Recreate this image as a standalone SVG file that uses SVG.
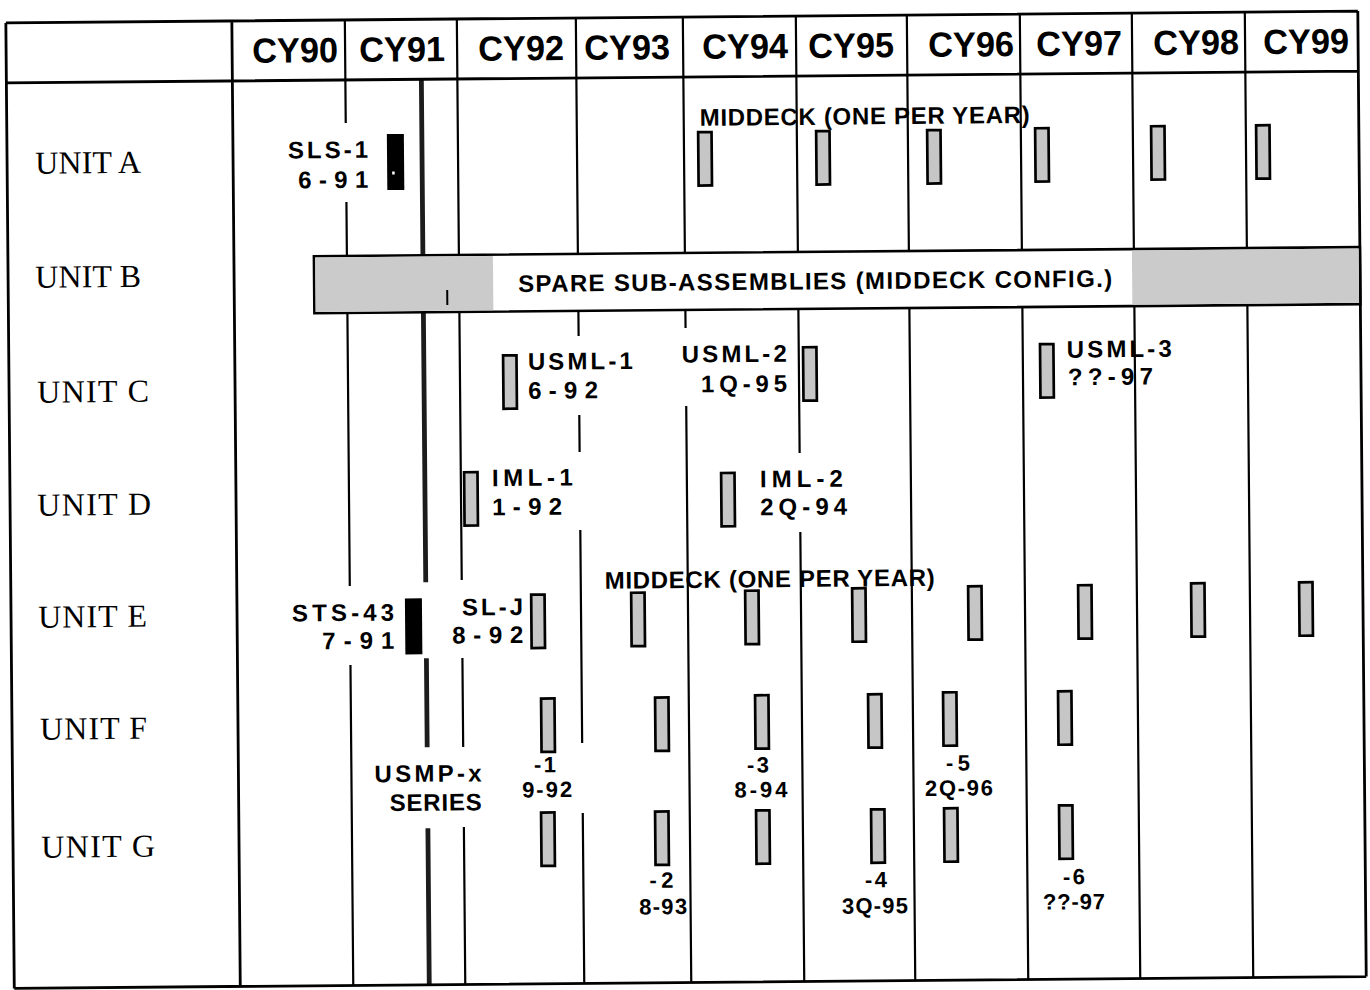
<svg xmlns="http://www.w3.org/2000/svg" width="1370" height="990" viewBox="0 0 1370 990">
<defs>
<style>
.fr{stroke:#000;stroke-width:2.8;fill:none}
.ln{stroke:#000;stroke-width:2.2;fill:none}
.tk{stroke:#1c1c1c;stroke-width:4.8;fill:none}
.tick{stroke:#000;stroke-width:2;fill:none}
.box{fill:#c6c6c6;stroke:#000;stroke-width:2.7}
.blk{fill:#000}
.sh{fill:#cbcbcb}
.bar{fill:#fff;stroke:#000;stroke-width:2.6}
.hd{font-family:"Liberation Sans",Arial,sans-serif;font-weight:bold;font-size:35px;fill:#000;text-anchor:middle}
.t{font-family:"Liberation Sans",Arial,sans-serif;font-weight:bold;font-size:24px;fill:#000}
.s{font-family:"Liberation Sans",Arial,sans-serif;font-weight:bold;font-size:22px;fill:#000;text-anchor:middle}
.u{font-family:"Liberation Serif","Times New Roman",serif;font-size:32px;fill:#000}
.e{text-anchor:end}
</style>
<rect id="bx" class="box" x="1.3" y="1.3" width="13.4" height="53.4"/>
<rect id="bk" class="blk" x="0" y="0" width="17" height="56"/>
</defs>
<rect width="1370" height="990" fill="#fff"/>
<g transform="rotate(-0.5 685 495)">
  <g id="grid">
    <path class="ln" d="M349 17V120M349 199V253M349 310V583M349 662V982.5
      M461 17V253M461 310V578M461 656V745M461 825V982.5
      M580 17V253M580 310V335M580 414V451M580 529V742M580 812V982.5
      M687 17V253M687 310V328M687 406V982.5
      M800 17V253M800 310V454M800 533V982.5
      M911 17V982.5M1024 17V982.5M1136 17V982.5M1249 17V982.5"/>
    <path class="tk" d="M425 77V253M425 310V580M425 656V745M425 826V982.5"/>
    <path class="fr" d="M10 17H1362M10 77H1362M10 982.5H1362M10 17V982.5M1362 17V982.5M236 17V982.5"/>
  </g>
  <g id="header">
    <text class="hd" x="299" y="59" textLength="86" lengthAdjust="spacingAndGlyphs">CY90</text>
    <text class="hd" x="406" y="59" textLength="86" lengthAdjust="spacingAndGlyphs">CY91</text>
    <text class="hd" x="525" y="59" textLength="86" lengthAdjust="spacingAndGlyphs">CY92</text>
    <text class="hd" x="631" y="59" textLength="86" lengthAdjust="spacingAndGlyphs">CY93</text>
    <text class="hd" x="749" y="59" textLength="86" lengthAdjust="spacingAndGlyphs">CY94</text>
    <text class="hd" x="855" y="59" textLength="86" lengthAdjust="spacingAndGlyphs">CY95</text>
    <text class="hd" x="975" y="59" textLength="86" lengthAdjust="spacingAndGlyphs">CY96</text>
    <text class="hd" x="1083" y="59" textLength="86" lengthAdjust="spacingAndGlyphs">CY97</text>
    <text class="hd" x="1200" y="59" textLength="86" lengthAdjust="spacingAndGlyphs">CY98</text>
    <text class="hd" x="1310" y="59" textLength="86" lengthAdjust="spacingAndGlyphs">CY99</text>
  </g>
  <g id="units">
    <text class="u" x="38" y="168" textLength="106">UNIT A</text>
    <text class="u" x="37" y="282" textLength="106">UNIT B</text>
    <text class="u" x="38" y="397" textLength="112">UNIT C</text>
    <text class="u" x="37" y="510" textLength="114">UNIT D</text>
    <text class="u" x="37" y="622" textLength="109">UNIT E</text>
    <text class="u" x="38" y="734" textLength="107">UNIT F</text>
    <text class="u" x="38" y="852" textLength="114">UNIT G</text>
  </g>
  <g id="spare-bar">
    <rect class="bar" x="316" y="253" width="1046" height="57"/>
    <rect class="sh" x="317.3" y="254.3" width="177.7" height="54.4"/>
    <rect class="sh" x="1134" y="254.3" width="226.7" height="54.4"/>
    <path class="tick" d="M449 288V303"/>
    <text class="t" x="520" y="290.5" textLength="594">SPARE SUB-ASSEMBLIES (MIDDECK CONFIG.)</text>
  </g>
  <g id="sls-1">
    <text class="t e" x="371" y="155" font-size="25" textLength="80">SLS-1</text>
    <text class="t e" x="371" y="185" font-size="25" textLength="70">6-91</text>
    <use href="#bk" x="390" y="131.5"/>
    <rect x="395" y="169" width="2.5" height="3" fill="#fff"/>
  </g>
  <g id="unit-a-middeck">
    <text class="t" x="703" y="126" textLength="330">MIDDECK (ONE PER YEAR)</text>
    <use href="#bx" x="700" y="131"/>
    <use href="#bx" x="818" y="131"/>
    <use href="#bx" x="929" y="131"/>
    <use href="#bx" x="1037" y="130"/>
    <use href="#bx" x="1153" y="129"/>
    <use href="#bx" x="1258" y="129"/>
  </g>
  <g id="usml-1">
    <use href="#bx" x="503" y="352.5"/>
    <text class="t" x="529" y="368.5" textLength="105">USML-1</text>
    <text class="t" x="529" y="397.5" textLength="70">6-92</text>
  </g>
  <g id="usml-2">
    <text class="t e" x="788" y="362.5" textLength="105">USML-2</text>
    <text class="t e" x="788" y="392.5" textLength="86">1Q-95</text>
    <use href="#bx" x="803" y="347"/>
  </g>
  <g id="usml-3">
    <use href="#bx" x="1040" y="346"/>
    <text class="t" x="1068" y="361" textLength="105">USML-3</text>
    <text class="t" x="1069" y="388.5" textLength="85">??-97</text>
  </g>
  <g id="iml-1">
    <use href="#bx" x="463" y="469"/>
    <text class="t" x="492" y="484.5" textLength="81">IML-1</text>
    <text class="t" x="492" y="513.5" textLength="70">1-92</text>
  </g>
  <g id="iml-2">
    <use href="#bx" x="720" y="472"/>
    <text class="t" x="760" y="488" textLength="83">IML-2</text>
    <text class="t" x="760" y="516" textLength="87">2Q-94</text>
  </g>
  <g id="sts-43">
    <text class="t e" x="393" y="618" font-size="25" textLength="102">STS-43</text>
    <text class="t e" x="393" y="646" font-size="25" textLength="72">7-91</text>
    <use href="#bk" x="404" y="596"/>
  </g>
  <g id="sl-j">
    <text class="t e" x="522" y="613.5" font-size="25" textLength="61">SL-J</text>
    <text class="t e" x="522" y="641.5" font-size="25" textLength="71">8-92</text>
    <use href="#bx" x="529" y="592"/>
  </g>
  <g id="unit-e-middeck">
    <text class="t" x="604" y="588" textLength="330">MIDDECK (ONE PER YEAR)</text>
    <use href="#bx" x="629" y="591"/>
    <use href="#bx" x="743" y="590"/>
    <use href="#bx" x="850" y="588.5"/>
    <use href="#bx" x="966" y="587.5"/>
    <use href="#bx" x="1076" y="587.4"/>
    <use href="#bx" x="1189" y="586.4"/>
    <use href="#bx" x="1297" y="586.4"/>
  </g>
  <g id="usmp-series">
    <text class="t" x="425.6" y="779.5" font-size="25" text-anchor="middle" textLength="107">USMP-x</text>
    <text class="t" x="433" y="808.5" font-size="24.5" text-anchor="middle" textLength="92">SERIES</text>
  </g>
  <g id="usmp-1">
    <use href="#bx" x="538" y="696"/>
    <text class="s" x="542.6" y="771" textLength="22">-1</text>
    <text class="s" x="544.5" y="796" textLength="50">9-92</text>
    <use href="#bx" x="537" y="810"/>
  </g>
  <g id="usmp-2">
    <use href="#bx" x="652" y="696"/>
    <use href="#bx" x="651" y="810"/>
    <text class="s" x="658" y="887.5" textLength="24">-2</text>
    <text class="s" x="659.5" y="914" textLength="48">8-93</text>
  </g>
  <g id="usmp-3">
    <use href="#bx" x="752" y="694.6"/>
    <text class="s" x="755.6" y="773" textLength="22">-3</text>
    <text class="s" x="758.4" y="798" textLength="53">8-94</text>
    <use href="#bx" x="752" y="809.7"/>
  </g>
  <g id="usmp-4">
    <use href="#bx" x="865" y="694.6"/>
    <use href="#bx" x="867" y="809.7"/>
    <text class="s" x="872.7" y="889" textLength="22">-4</text>
    <text class="s" x="871.3" y="915" textLength="66">3Q-95</text>
  </g>
  <g id="usmp-5">
    <use href="#bx" x="940" y="693.3"/>
    <text class="s" x="955.6" y="772.8" textLength="24">-5</text>
    <text class="s" x="956.4" y="798" textLength="68">2Q-96</text>
    <use href="#bx" x="940" y="809.3"/>
  </g>
  <g id="usmp-6">
    <use href="#bx" x="1055" y="693.3"/>
    <use href="#bx" x="1055" y="807.4"/>
    <text class="s" x="1070.7" y="887.7" textLength="22">-6</text>
    <text class="s" x="1070.4" y="912.7" textLength="62">??-97</text>
  </g>
</g>
</svg>
